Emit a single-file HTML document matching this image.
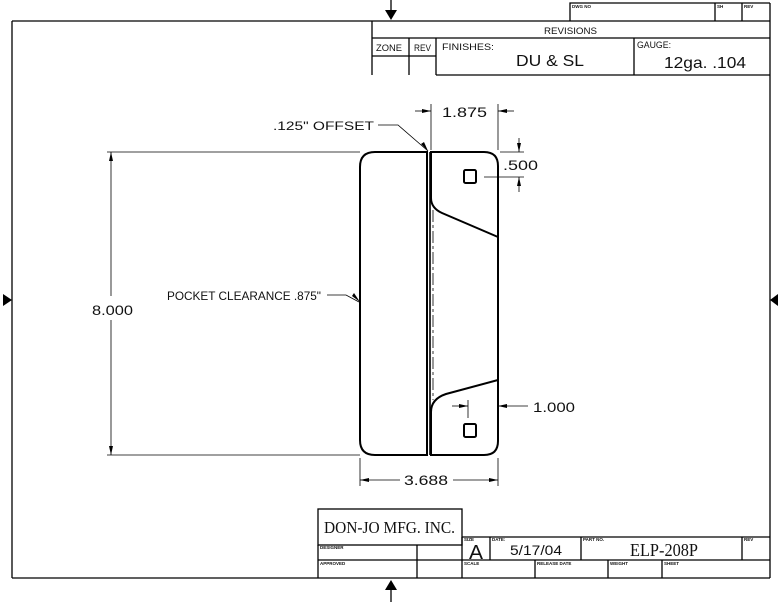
<!DOCTYPE html>
<html><head><meta charset="utf-8"><style>
html,body{margin:0;padding:0;background:#fff;}
svg{display:block;}
text{font-family:"Liberation Sans",sans-serif;fill:#111;}
</style></head><body>
<svg width="780" height="602" viewBox="0 0 780 602" xmlns="http://www.w3.org/2000/svg">
<g stroke="#000" stroke-width="1.3" fill="none">
  <line x1="12" y1="21" x2="770" y2="21"/>
  <line x1="12" y1="21" x2="12" y2="578"/>
  <line x1="770" y1="3" x2="770" y2="578"/>
  <line x1="12" y1="578" x2="770" y2="578"/>
  <polyline points="570,21 570,3 770,3"/>
  <line x1="715" y1="3" x2="715" y2="21"/>
  <line x1="742" y1="3" x2="742" y2="21"/>
  <line x1="372" y1="21" x2="372" y2="75"/>
  <line x1="372" y1="38" x2="770" y2="38"/>
  <line x1="372" y1="56" x2="436" y2="56"/>
  <line x1="409" y1="38" x2="409" y2="75"/>
  <line x1="436" y1="38" x2="436" y2="75"/>
  <line x1="436" y1="75" x2="770" y2="75"/>
  <line x1="634" y1="38" x2="634" y2="75"/>
  <rect x="318" y="509" width="144" height="36"/>
  <line x1="462" y1="537" x2="770" y2="537"/>
  <line x1="318" y1="545" x2="318" y2="578"/>
  <line x1="318" y1="560" x2="770" y2="560"/>
  <line x1="417" y1="545" x2="417" y2="578"/>
  <line x1="462" y1="537" x2="462" y2="578"/>
  <line x1="490" y1="537" x2="490" y2="560"/>
  <line x1="581" y1="537" x2="581" y2="560"/>
  <line x1="742" y1="537" x2="742" y2="560"/>
  <line x1="535" y1="560" x2="535" y2="578"/>
  <line x1="608" y1="560" x2="608" y2="578"/>
  <line x1="662" y1="560" x2="662" y2="578"/>
  <line x1="391" y1="0" x2="391" y2="10"/>
  <line x1="391" y1="590" x2="391" y2="602"/>
</g>
<g fill="#000">
  <polygon points="385,10 397,10 391,20"/>
  <polygon points="385,590 397,590 391,580"/>
  <polygon points="3,294 3,306 12,300"/>
  <polygon points="778,294 778,306 770,300"/>
</g>
<g stroke="#000" stroke-width="2" fill="none">
  <path d="M375,152 H427 V455 H375 Q360,455 360,440 V167 Q360,152 375,152 Z"/>
  <path d="M431,198 V152 H484 Q498,152 498,166 V441 Q498,455 484,455 H431 V412"/>
  <line x1="430" y1="152" x2="430" y2="455" stroke-width="1.6"/>
  <path d="M431,198 Q431,208 442,213 L498,237"/>
  <path d="M498,380 L446,394 Q431,399 431,412"/>
  <rect x="464" y="170" width="12" height="13" rx="1.5"/>
  <rect x="464" y="424" width="12" height="13" rx="1.5"/>
</g>
<line x1="433" y1="210" x2="433" y2="400" stroke="#000" stroke-width="0.8" stroke-dasharray="12,3,3,3"/>
<g stroke="#000" stroke-width="0.8" fill="none">
  <line x1="107" y1="152" x2="360" y2="152"/>
  <line x1="107" y1="455" x2="360" y2="455"/>
  <line x1="111" y1="152" x2="111" y2="296"/>
  <line x1="111" y1="320" x2="111" y2="455"/>
  <line x1="360" y1="458" x2="360" y2="486"/>
  <line x1="498" y1="458" x2="498" y2="486"/>
  <line x1="360" y1="480" x2="400" y2="480"/>
  <line x1="453" y1="480" x2="498" y2="480"/>
  <line x1="431" y1="104" x2="431" y2="150"/>
  <line x1="498" y1="104" x2="498" y2="150"/>
  <line x1="415" y1="111" x2="431" y2="111"/>
  <line x1="498" y1="111" x2="514" y2="111"/>
  <line x1="500" y1="152" x2="524" y2="152"/>
  <line x1="484" y1="177" x2="524" y2="177"/>
  <line x1="519" y1="138" x2="519" y2="152"/>
  <line x1="519" y1="177" x2="519" y2="192"/>
  <line x1="498" y1="406" x2="528" y2="406"/>
  <line x1="452" y1="406" x2="468" y2="406"/>
  <line x1="468" y1="400" x2="468" y2="418"/>
  <polyline points="378,125 398,125 428,151"/>
  <polyline points="327,295 346,295 359,302"/>
</g>
<g fill="#000">
  <polygon points="111,152 109,161 113,161"/>
  <polygon points="111,455 109,446 113,446"/>
  <polygon points="360,480 369,478 369,482"/>
  <polygon points="498,480 489,478 489,482"/>
  <polygon points="431,111 422,109 422,113"/>
  <polygon points="498,111 507,109 507,113"/>
  <polygon points="519,152 517,143 521,143"/>
  <polygon points="519,177 517,186 521,186"/>
  <polygon points="498,406 507,404 507,408"/>
  <polygon points="468,406 459,404 459,408"/>
  <polygon points="428,151 421,144 424,142"/>
  <polygon points="360,302 352,296 354,293"/>
</g>
<g font-size="14">
  <text x="92" y="315" textLength="41" lengthAdjust="spacingAndGlyphs">8.000</text>
  <text x="404" y="485" textLength="44" lengthAdjust="spacingAndGlyphs">3.688</text>
  <text x="442" y="117" textLength="45" lengthAdjust="spacingAndGlyphs">1.875</text>
  <text x="503" y="170" textLength="35" lengthAdjust="spacingAndGlyphs">.500</text>
  <text x="533" y="412" textLength="42" lengthAdjust="spacingAndGlyphs">1.000</text>
</g>
<g font-size="12">
  <text x="273" y="130" textLength="101" lengthAdjust="spacingAndGlyphs">.125" OFFSET</text>
  <text x="167" y="300" textLength="154" lengthAdjust="spacingAndGlyphs">POCKET CLEARANCE .875"</text>
</g>
<g font-size="9">
  <text x="544" y="34" textLength="53" lengthAdjust="spacingAndGlyphs">REVISIONS</text>
  <text x="376" y="51" textLength="26" lengthAdjust="spacingAndGlyphs">ZONE</text>
  <text x="414" y="51" textLength="17" lengthAdjust="spacingAndGlyphs">REV</text>
  <text x="442" y="50" textLength="52" lengthAdjust="spacingAndGlyphs">FINISHES:</text>
  <text x="637" y="48" textLength="34" lengthAdjust="spacingAndGlyphs">GAUGE:</text>
</g>
<text x="516" y="66" font-size="16" textLength="68" lengthAdjust="spacingAndGlyphs">DU &amp; SL</text>
<text x="664" y="68" font-size="16" textLength="82" lengthAdjust="spacingAndGlyphs">12ga. .104</text>
<g font-size="4.5" font-weight="bold">
  <text x="572" y="8">DWG NO</text>
  <text x="717" y="8">SH</text>
  <text x="744" y="8">REV</text>
  <text x="320" y="549">DESIGNER</text>
  <text x="320" y="565">APPROVED</text>
  <text x="464" y="541">SIZE</text>
  <text x="492" y="541">DATE:</text>
  <text x="583" y="541">PART NO.</text>
  <text x="744" y="541">REV</text>
  <text x="464" y="565">SCALE</text>
  <text x="537" y="565">RELEASE DATE</text>
  <text x="610" y="565">WEIGHT</text>
  <text x="664" y="565">SHEET</text>
</g>
<text x="324" y="533" font-size="17" style="font-family:'Liberation Serif',serif" textLength="131" lengthAdjust="spacingAndGlyphs">DON-JO MFG. INC.</text>
<text x="469" y="559" font-size="20" textLength="14" lengthAdjust="spacingAndGlyphs">A</text>
<text x="510" y="555" font-size="14" textLength="52" lengthAdjust="spacingAndGlyphs">5/17/04</text>
<text x="630" y="556" style="font-family:'Liberation Serif',serif" font-size="18" textLength="68" lengthAdjust="spacingAndGlyphs">ELP-208P</text>
</svg>
</body></html>
